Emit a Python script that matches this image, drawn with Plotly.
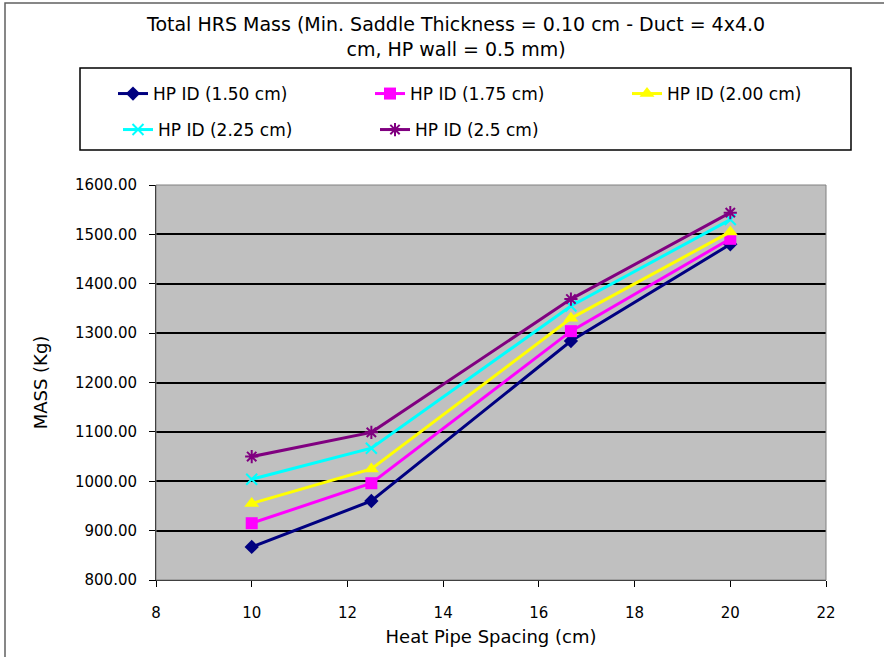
import plotly.graph_objects as go

spacing = [10, 12.5, 16.67, 20]
series_names = ["HP ID (1.50 cm)", "HP ID (1.75 cm)", "HP ID (2.00 cm)", "HP ID (2.25 cm)", "HP ID (2.5 cm)"]
mass_150 = [867, 960, 1284, 1480]
mass_175 = [915, 996, 1304, 1491]
mass_200 = [955, 1025, 1330, 1505]
mass_225 = [1004, 1067, 1355, 1530]
mass_250 = [1050, 1099, 1369, 1544]
x_ticks = [8, 10, 12, 14, 16, 18, 20, 22]
y_ticks = [800, 900, 1000, 1100, 1200, 1300, 1400, 1500, 1600]

colors = ["#000080", "#FF00FF", "#FFFF00", "#00FFFF", "#800080"]
symbols = ["diamond", "square", "triangle-up", "x-thin", "asterisk"]
sizes = [11, 12, 13, 11, 11]
legend_of = ["legend", "legend", "legend", "legend2", "legend2"]
all_mass = [mass_150, mass_175, mass_200, mass_225, mass_250]

# pixel geometry helpers (plot area 156..826 x, 185..580 y)
L, R, T, B, W, H = 156, 826, 185, 580, 884, 657
def px(x): return (x - L) / (R - L)
def py(y): return (B - y) / (B - T)

wide = "DejaVu Sans, Verdana, sans-serif"

fig = go.Figure()
for name, vals, c, s, sz, lg in zip(series_names, all_mass, colors, symbols, sizes, legend_of):
    open_sym = s in ("x-thin", "asterisk")
    fig.add_trace(go.Scatter(
        x=spacing, y=vals, name=name, mode="lines+markers", legend=lg,
        line=dict(color=c, width=3),
        marker=dict(symbol=s, size=sz, color=c,
                    line=dict(color=c, width=2 if open_sym else 0)),
    ))

leg_common = dict(orientation="h", xref="paper", yref="paper", xanchor="left",
                  yanchor="middle", borderwidth=0, bgcolor="rgba(0,0,0,0)",
                  entrywidth=212, entrywidthmode="pixels",
                  font=dict(family=wide, size=17, color="black"))

fig.update_layout(
    width=W, height=H,
    margin=dict(l=L, r=W - R, t=T, b=H - B),
    paper_bgcolor="white", plot_bgcolor="#C0C0C0",
    font=dict(family=wide, size=15, color="black"),
    showlegend=True,
    legend=dict(x=px(118), y=py(94), **leg_common),
    legend2=dict(x=px(118), y=py(130), **leg_common),
    xaxis=dict(range=[8, 22], tickvals=x_ticks, showgrid=False, zeroline=False,
               showline=True, linecolor="black", linewidth=1, ticks="outside",
               ticklen=6, tickcolor="black", ticklabelstandoff=13,
               title=dict(text="Heat Pipe Spacing (cm)", standoff=9,
                          font=dict(family=wide, size=18)),
               tickfont=dict(family=wide, size=15)),
    yaxis=dict(range=[800, 1600], tickvals=y_ticks, tickformat=".2f",
               showgrid=True, gridcolor="black", gridwidth=1.5, zeroline=False,
               showline=True, linecolor="black", linewidth=1, ticks="outside",
               ticklen=6, tickcolor="black", ticklabelstandoff=9,
               title=dict(text="MASS (Kg)", standoff=22,
                          font=dict(family=wide, size=18)),
               tickfont=dict(family=wide, size=15)),
    annotations=[dict(
        text="Total HRS Mass (Min. Saddle Thickness = 0.10 cm - Duct = 4x4.0<br>cm, HP wall = 0.5 mm)",
        xref="paper", yref="paper", x=px(455), y=py(11), xanchor="center", yanchor="top",
        showarrow=False, align="center", font=dict(family=wide, size=19, color="black"))],
)

# plot area border
fig.add_shape(type="rect", xref="paper", yref="paper", x0=0, x1=1, y0=0, y1=1,
              line=dict(color="#808080", width=1), layer="above")
# legend box
fig.add_shape(type="rect", xref="paper", yref="paper",
              x0=px(80), x1=px(851), y0=py(150), y1=py(68),
              line=dict(color="black", width=1.5))
# outer chart border (right/bottom edges fall outside the canvas)
fig.add_shape(type="rect", xref="paper", yref="paper",
              x0=px(5), x1=px(900), y0=py(680), y1=py(3),
              line=dict(color="#606060", width=1.5))

fig.write_html("out.html")
